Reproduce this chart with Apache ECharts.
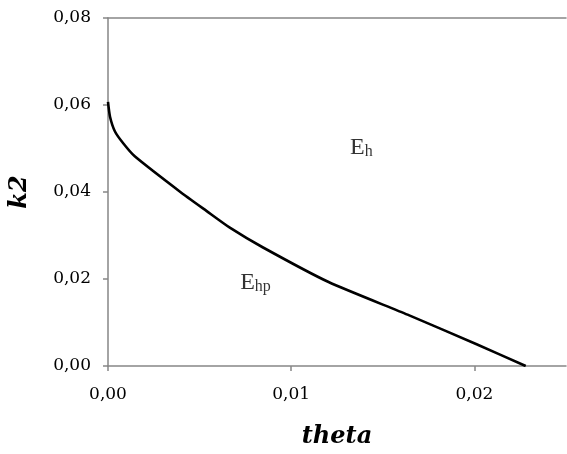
<!DOCTYPE html>
<html>
<head>
<meta charset="utf-8">
<script src="https://cdn.jsdelivr.net/npm/echarts@6/dist/echarts.min.js"></script>
<style>html,body{margin:0;padding:0;background:#fff}#c{width:567px;height:454px}</style>
</head>
<body>
<div id="c"></div>
<script>
var thetaValues = [0, 0.00011, 0.00038, 0.00083, 0.00146, 0.00395, 0.00539, 0.00665, 0.00844, 0.01204, 0.01635, 0.02012, 0.0228];
var k2Values    = [0.0607, 0.0573, 0.0539, 0.0512, 0.0482, 0.0400, 0.0356, 0.0318, 0.0273, 0.0193, 0.0118, 0.0050, 0];
var xTicks = [0, 0.01, 0.02];
var yTicks = [0, 0.02, 0.04, 0.06, 0.08];
var regionLabels = [
  {name: 'h', theta: 0.01383, k2: 0.0502},
  {name: 'hp', theta: 0.00805, k2: 0.0191}
];

var font = 'DejaVu Serif';
var fmt = function (v) { return v.toFixed(2).replace('.', ','); };
var curve = thetaValues.map(function (t, i) { return [t, k2Values[i]]; });

var chart = echarts.init(document.getElementById('c'));
chart.setOption({
  animation: false,
  backgroundColor: '#fff',
  grid: {left: 107, right: 1, top: 18, bottom: 84},
  xAxis: [{
    type: 'value', min: 0, max: 0.025, interval: 0.01,
    name: 'theta', nameLocation: 'middle', nameGap: 59,
    nameTextStyle: {fontFamily: font, fontSize: 24, fontWeight: 'bold', fontStyle: 'italic', color: '#000'},
    axisLine: {show: true, lineStyle: {color: '#868686', width: 1.5}},
    axisTick: {show: true, length: 5, customValues: xTicks, lineStyle: {color: '#868686', width: 1.5}},
    axisLabel: {customValues: xTicks, margin: 20, fontFamily: font, fontSize: 17, color: '#000', formatter: fmt},
    splitLine: {show: false}
  }, {
    type: 'value', min: 0, max: 0.025, position: 'top',
    axisLine: {show: true, lineStyle: {color: '#868686', width: 1.5}},
    axisTick: {show: false}, axisLabel: {show: false}, splitLine: {show: false}
  }],
  yAxis: {
    type: 'value', min: 0, max: 0.08, interval: 0.02,
    name: 'k2', nameLocation: 'middle', nameGap: 76,
    nameTextStyle: {fontFamily: font, fontSize: 24, fontWeight: 'bold', fontStyle: 'italic', color: '#000'},
    axisLine: {show: true, lineStyle: {color: '#868686', width: 1.5}},
    axisTick: {show: true, length: 5, customValues: yTicks, lineStyle: {color: '#868686', width: 1.5}},
    axisLabel: {customValues: yTicks, margin: 17, fontFamily: font, fontSize: 17, color: '#000', formatter: fmt},
    splitLine: {show: false}
  },
  series: [{
    type: 'line', data: curve, smooth: 0.2, symbol: 'none',
    lineStyle: {color: '#000', width: 2.6}
  }, {
    type: 'scatter', symbolSize: 0,
    data: regionLabels.map(function (r) { return {value: [r.theta, r.k2], name: r.name}; }),
    label: {
      show: true, position: 'inside',
      formatter: function (p) { return '{e|E}{s|' + p.name + '}'; },
      rich: {
        e: {fontFamily: 'Liberation Serif', fontSize: 24, lineHeight: 24, color: '#000', verticalAlign: 'bottom'},
        s: {fontFamily: 'Liberation Serif', fontSize: 16, lineHeight: 16, color: '#000', verticalAlign: 'bottom'}
      }
    }
  }]
});
</script>
</body>
</html>
